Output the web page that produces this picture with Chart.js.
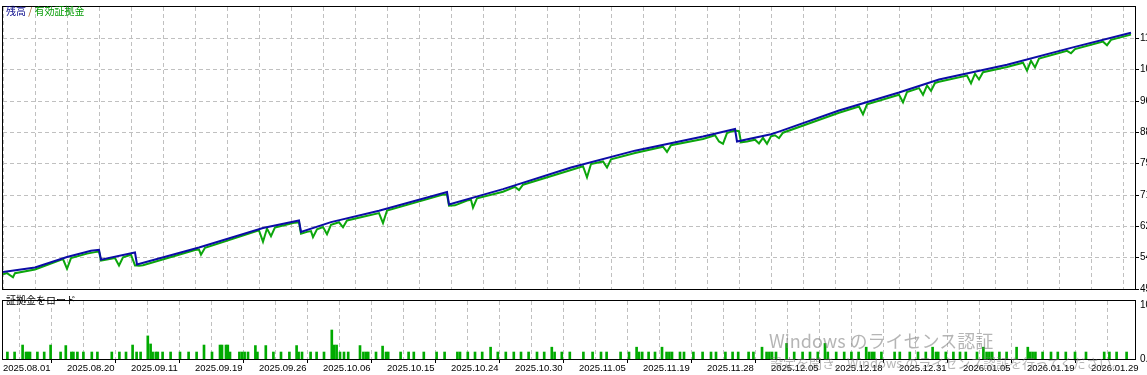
<!DOCTYPE html>
<html lang="ja">
<head>
    <meta charset="UTF-8">
    <script src="https://cdn.jsdelivr.net/npm/chart.js"></script>
    <title>残高 / 有効証拠金</title>
    <style>
        html, body {
            margin: 0;
            padding: 0;
            background: #fff;
            overflow: hidden;
        }
        #wrap {
            position: relative;
            width: 1147px;
            height: 375px;
            overflow: hidden;
        }
        canvas {
            position: absolute;
            left: 0;
        }
        #mainChart { top: 0; }
        #loadChart { top: 290px; }
        .lbl {
            position: absolute;
            font-family: "Noto Sans CJK JP", sans-serif;
            font-size: 10px;
            line-height: 12px;
            white-space: nowrap;
        }
        .wm {
            position: absolute;
            font-family: "Noto Sans CJK JP", sans-serif;
            color: rgba(120, 120, 120, 0.55);
            white-space: nowrap;
        }
    </style>
</head>
<body>
<div id="wrap">
    <canvas id="mainChart" width="1200" height="300"></canvas>
    <canvas id="loadChart" width="1200" height="85"></canvas>
    <div class="lbl" style="left:6px; top:5px;"><span style="color:#0a0a8c">残高</span><span style="color:#a05a20"> / </span><span style="color:#009a00">有効証拠金</span></div>
    <div class="lbl" style="left:6px; top:294px; color:#000">証拠金をロード</div>
    <div class="wm" style="left:769px; top:328px; font-size:18px; line-height:24px;">Windows のライセンス認証</div>
    <div class="wm" style="left:770px; top:354px; font-size:13px; line-height:17px;">設定を開き、Windows のライセンス認証を行ってください。</div>
</div>
<script>
    // balance (blue), trade index -> account value
    const balX = [0, 8, 16, 22, 24, 24.5, 33, 33.5, 49, 65, 74, 74.5, 82, 94, 111, 111.5, 125, 142, 158, 175, 183, 183.5, 192, 194, 209, 224, 234, 251, 267, 282];
    const balY = [5020, 5144, 5430, 5600, 5622, 5357, 5551, 5224, 5684, 6215, 6419, 6109, 6374, 6685, 7190, 6852, 7269, 7854, 8313, 8696, 8898, 8563, 8757, 8829, 9402, 9891, 10244, 10643, 11102, 11511];

    // equity (green)
    const eqX = [0, 1, 2.5, 3, 8, 15, 16, 17, 21, 23, 24, 24.5, 28, 29, 30, 32, 33, 33.5, 34, 35, 48, 49, 49.5, 50.5,
        64, 65, 66, 67, 68, 73, 74, 74.5, 76, 77, 77.5, 78.5, 80, 81, 82, 84, 85, 86, 94, 95, 96,
        110, 111, 111.5, 113, 116, 117, 117.5, 118.5, 125, 128, 129, 130, 142, 145, 146, 147, 150, 151, 152,
        158, 165, 166, 167, 175, 178, 179, 180, 181, 182, 183, 184, 184.5, 186, 188, 189, 190, 191, 192, 193, 194, 195,
        209, 214, 215, 216, 224, 225, 226, 229, 230, 231, 232, 233, 234, 241, 242, 243, 244, 245,
        251, 255, 256, 257, 258, 259, 266, 267, 268, 275, 276, 277, 282];
    const eqY = [4958, 4990, 4879, 4990, 5090, 5370, 5110, 5400, 5520, 5560, 5580, 5330, 5400, 5198, 5420, 5490, 5200, 5200, 5190, 5205, 5620, 5630, 5490, 5680,
        6150, 5843, 6200, 5994, 6230, 6360, 6370, 6060, 6110, 6130, 5968, 6180, 6240, 6048, 6300, 6370, 6233, 6420, 6620, 6348, 6690,
        7120, 7130, 6820, 6830, 6960, 6980, 6765, 7020, 7200, 7330, 7243, 7390, 7790, 7890, 7588, 7950, 8020, 7854, 8080,
        8250, 8420, 8279, 8460, 8630, 8730, 8563, 8499, 8790, 8830, 8860, 8840, 8540, 8560, 8610, 8510, 8660, 8499, 8700, 8730, 8651, 8800,
        9340, 9510, 9296, 9570, 9830, 9626, 9900, 10010, 9827, 10080, 9934, 10150, 10180, 10350, 10138, 10400, 10244, 10440,
        10580, 10700, 10483, 10750, 10571, 10810, 11020, 10954, 11070, 11270, 11174, 11320, 11460];

    // margin load bars
    const loadX = [1.1, 2.9, 4.9, 5.75, 6.25, 6.75, 8.6, 10.3, 11.9, 14.4, 15.7, 17.1, 17.6, 18.6, 20.1, 22.2, 23.6, 27.2, 29.1, 30.75,
        32.4, 33.4, 34.4, 36.2, 36.9, 37.4, 38.2, 38.7, 39.9, 41.9, 44.25, 46.4, 48.4, 50.25, 52.25, 54.25, 54.75, 55.75, 56.2, 56.75,
        59.1, 59.75, 60.4, 61.25, 63.1, 63.6, 65.7, 67.6, 69.5, 71.6, 73.4, 73.9, 74.75, 76.9, 78.4, 80.25, 82.2, 82.8, 83.4, 84.25,
        85.25, 86.3, 89.25, 90.1, 90.75, 91.3, 93.25, 94.9, 95.75, 96.3, 99.4, 101.4, 102.7, 105.2, 108.4, 110.4, 113.6, 114.25, 116.2, 118,
        119.8, 121.9, 123.7, 125.7, 127.7, 129.5, 131.4, 133.5, 135.3, 137.2, 137.9, 139.7, 141.7, 145.1, 147.4, 149.5, 150.9, 154.4, 156.5, 158.4,
        159, 159.8, 161.4, 163, 164.75, 165.9, 166.6, 167.25, 169.25, 170.25, 172.6, 174.9, 177, 178.25, 180.6, 182.4, 183.8, 186.4, 187.6, 189.75,
        190.9, 191.6, 192.25, 193.25, 195.9, 197.8, 199.9, 201.75, 203.7, 205.5, 206.2, 208.3, 210.3, 212.1, 213.9, 215.8, 216.5, 217.2, 217.8, 219.6,
        222.9, 224.2, 226.7, 228.75, 230.7, 232.4, 233.25, 233.8, 235.7, 237.6, 239.25, 240.7, 243.5, 245.1, 245.9, 246.6, 247.3, 249.1, 250.9, 253.4,
        256.2, 256.75, 257.4, 258.1, 259.9, 262, 263.7, 265.7, 268, 270.75, 275.3, 276.6, 278.4, 280.9];
    const loadY = [13, 13, 26, 13, 13, 13, 13, 13, 26, 13, 25, 13, 13, 13, 13, 13, 13, 13, 13, 13,
        26, 13, 13, 43, 28, 13, 13, 13, 13, 13, 13, 13, 13, 26, 13, 26, 26, 26, 26, 13,
        13, 13, 13, 13, 25, 13, 25, 13, 13, 13, 25, 13, 13, 13, 13, 13, 54, 26, 26, 13,
        13, 13, 25, 13, 13, 13, 13, 24, 13, 13, 13, 13, 13, 13, 13, 13, 13, 13, 13, 13,
        13, 22, 13, 13, 13, 13, 13, 13, 13, 22, 13, 13, 13, 13, 13, 13, 13, 13, 13, 22,
        13, 13, 13, 13, 22, 13, 13, 13, 13, 13, 13, 13, 13, 13, 13, 13, 13, 13, 13, 22,
        13, 13, 13, 13, 29, 13, 13, 13, 13, 29, 13, 13, 13, 13, 13, 22, 13, 13, 13, 13,
        13, 13, 13, 13, 13, 22, 13, 13, 13, 13, 13, 13, 13, 22, 13, 13, 13, 13, 13, 22,
        22, 13, 13, 13, 13, 13, 13, 13, 13, 13, 13, 13, 13, 13];

    const priceTicks = [4560, 5410, 6260, 7110, 7960, 8810, 9660, 10510, 11360];
    const loadTicks = [0, 100];
    const dateLabels = ['2025.08.01', '2025.08.20', '2025.09.11', '2025.09.19', '2025.09.26', '2025.10.06',
        '2025.10.15', '2025.10.24', '2025.10.30', '2025.11.05', '2025.11.19', '2025.11.28',
        '2025.12.05', '2025.12.18', '2025.12.31', '2026.01.05', '2026.01.19', '2026.01.29'];

    const GRID = '#c0c0c0';
    const DASH = [4, 3];
    const tickFont = {family: 'Liberation Sans', size: 10};

    // black frame round each panel
    const frame = {
        id: 'frame',
        afterDraw(chart) {
            const {ctx, chartArea: a} = chart;
            ctx.save();
            ctx.strokeStyle = '#000';
            ctx.lineWidth = 1;
            ctx.strokeRect(a.left - 0.5, a.top - 0.5, a.right - a.left + 1, a.bottom - a.top + 1);
            ctx.restore();
        }
    };

    new Chart(document.getElementById('mainChart'), {
        type: 'line',
        data: {
            datasets: [
                {
                    label: '残高',
                    data: balX.map((x, i) => ({x: x, y: balY[i]})),
                    borderColor: '#0c0ca6',
                    borderWidth: 2,
                    pointRadius: 0,
                    tension: 0,
                    order: 0
                },
                {
                    label: '有効証拠金',
                    data: eqX.map((x, i) => ({x: x, y: eqY[i]})),
                    borderColor: '#0ca60c',
                    borderWidth: 2,
                    pointRadius: 0,
                    tension: 0,
                    order: 1
                }
            ]
        },
        options: {
            responsive: false,
            animation: false,
            layout: {padding: {left: 3, top: 1, right: 0, bottom: 11}},
            plugins: {legend: {display: false}, tooltip: {enabled: false}},
            scales: {
                x: {
                    type: 'linear', min: 0, max: 283,
                    ticks: {display: false, stepSize: 8, autoSkip: false, includeBounds: false},
                    grid: {color: GRID, drawTicks: false},
                    border: {display: false, dash: DASH},
                    afterFit(s) { s.height = 0; }
                },
                y: {
                    position: 'right', min: 4560, max: 12210,
                    afterBuildTicks(s) { s.ticks = priceTicks.map(v => ({value: v})); },
                    ticks: {font: tickFont, color: '#000', padding: 1, callback: v => String(v)},
                    grid: {color: GRID, tickColor: '#000', tickLength: 4, tickBorderDash: []},
                    border: {display: false, dash: DASH},
                    afterFit(s) { s.width = 65; }
                }
            }
        },
        plugins: [frame]
    });

    new Chart(document.getElementById('loadChart'), {
        type: 'bar',
        data: {
            datasets: [{
                label: '証拠金をロード',
                data: loadX.map((x, i) => ({x: x, y: loadY[i]})),
                backgroundColor: '#00aa00',
                barThickness: 2
            }]
        },
        options: {
            responsive: false,
            animation: false,
            layout: {padding: {left: 3, top: 2, right: 0, bottom: 0}},
            plugins: {legend: {display: false}, tooltip: {enabled: false}},
            scales: {
                x: {
                    type: 'linear', min: 0, max: 283, offset: false,
                    ticks: {
                        stepSize: 8, autoSkip: false, includeBounds: false, maxRotation: 0,
                        align: 'start', padding: 0, font: {family: 'Liberation Sans', size: 9.5}, color: '#000',
                        callback: (v, i) => i % 2 === 0 ? (dateLabels[i / 2] || '') : ''
                    },
                    grid: {
                        color: GRID, tickLength: 4, tickBorderDash: [],
                        tickColor: c => c.index % 2 === 0 ? '#000' : 'rgba(0,0,0,0)'
                    },
                    border: {display: false, dash: DASH},
                    afterFit(s) { s.height = 16; }
                },
                y: {
                    position: 'right', min: 0, max: 108,
                    afterBuildTicks(s) { s.ticks = loadTicks.map(v => ({value: v})); },
                    ticks: {font: tickFont, color: '#000', padding: 5, callback: v => v.toFixed(2)},
                    grid: {display: false, drawTicks: false},
                    border: {display: false},
                    afterFit(s) { s.width = 65; }
                }
            }
        },
        plugins: [frame]
    });
</script>
</body>
</html>
